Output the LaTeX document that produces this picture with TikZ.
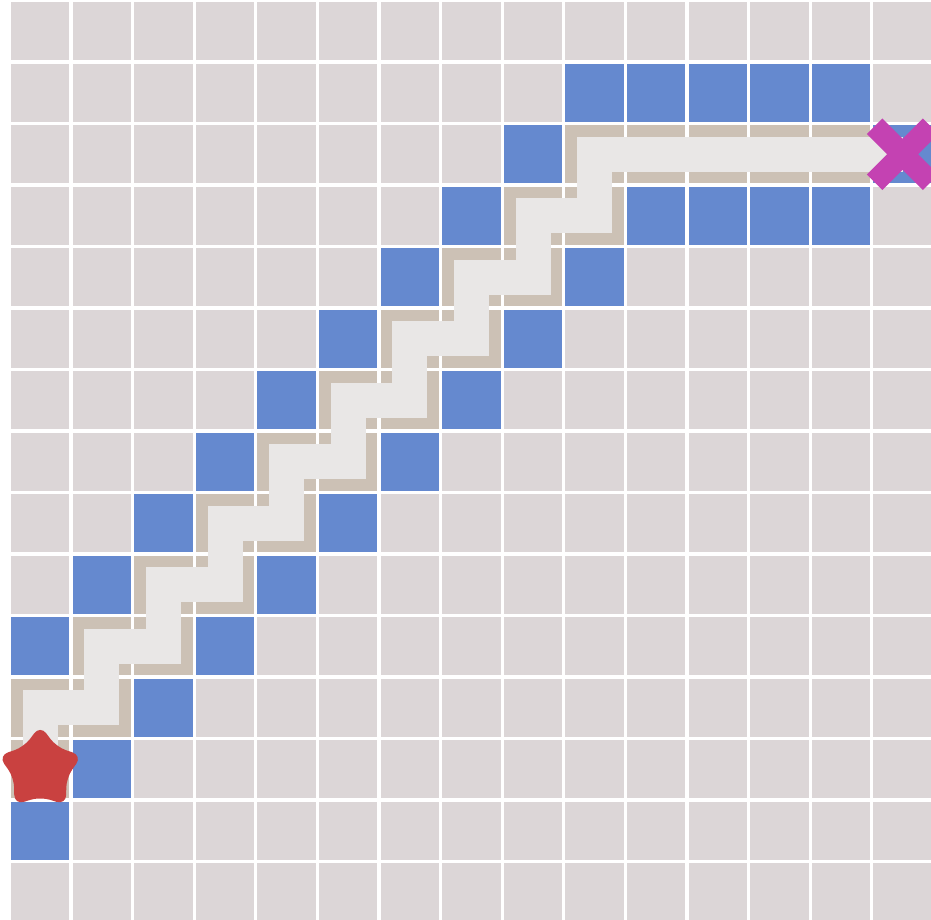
\documentclass[tikz,border=0pt]{standalone}
\usepackage{tikz}
\usetikzlibrary{shapes.geometric}
\definecolor{floor}{RGB}{220,214,215}
\definecolor{wall}{RGB}{101,137,207}
\definecolor{seen}{RGB}{204,193,181}
\definecolor{trailc}{RGB}{233,231,230}
\definecolor{startred}{RGB}{201,65,64}
\definecolor{goalpink}{RGB}{196,66,178}
\tikzset{
  trail/.style={draw=trailc,line width=35pt,line join=miter},
  startstar/.style={star,star points=5,star point ratio=1.6,minimum size=88pt,
    inner sep=0pt,fill=startred,rounded corners=10pt},
  goalbox/.style={minimum size=56pt,inner sep=0pt,outer sep=0pt},
  goalbar/.style={draw=goalpink,line width=22pt},
}
\newcommand{\cellat}[3]{\fill[#1] ({#2+0.025},{#3+0.025}) rectangle ({#2+0.975},{#3+0.975});}

\begin{document}
\begin{tikzpicture}[x=61.6pt,y=-61.5pt]
  \path[use as bounding box,fill=white] (-0.153,-0.008) rectangle (14.961,14.951);
  % floor
  \foreach \c in {0,...,14}
    \foreach \r in {0,...,14}
      {\cellat{floor}{\c}{\r}}
  % walls
  \foreach \k in {0,...,8} {\cellat{wall}{\k}{10-\k}}
  \foreach \k in {1,...,9} {\cellat{wall}{\k}{13-\k}}
  \foreach \c in {9,...,13} {\cellat{wall}{\c}{1}}
  \foreach \c in {10,...,13} {\cellat{wall}{\c}{3}}
  \cellat{wall}{0}{13}
  \cellat{wall}{14}{2}
  % visited
  \foreach \k in {0,...,9} {\cellat{seen}{\k}{12-\k}\cellat{seen}{\k}{11-\k}}
  \foreach \c in {10,...,13} {\cellat{seen}{\c}{2}}
  % route
  \coordinate (start) at (0.5,12.5);
  \coordinate (goal) at (14.5,2.5);
  \draw[trail] (start) \foreach \k in {0,...,8}{ -- (\k+0.5,11.5-\k) -- (\k+1.5,11.5-\k)}
    -- (9.5,2.5) -- (goal);
  \node[startstar] (startmark) at (start) {};
  \node[goalbox] (goalmark) at (goal) {};
  \draw[goalbar] (goalmark.north west) -- (goalmark.south east)
    (goalmark.south west) -- (goalmark.north east);
\end{tikzpicture}
\end{document}
